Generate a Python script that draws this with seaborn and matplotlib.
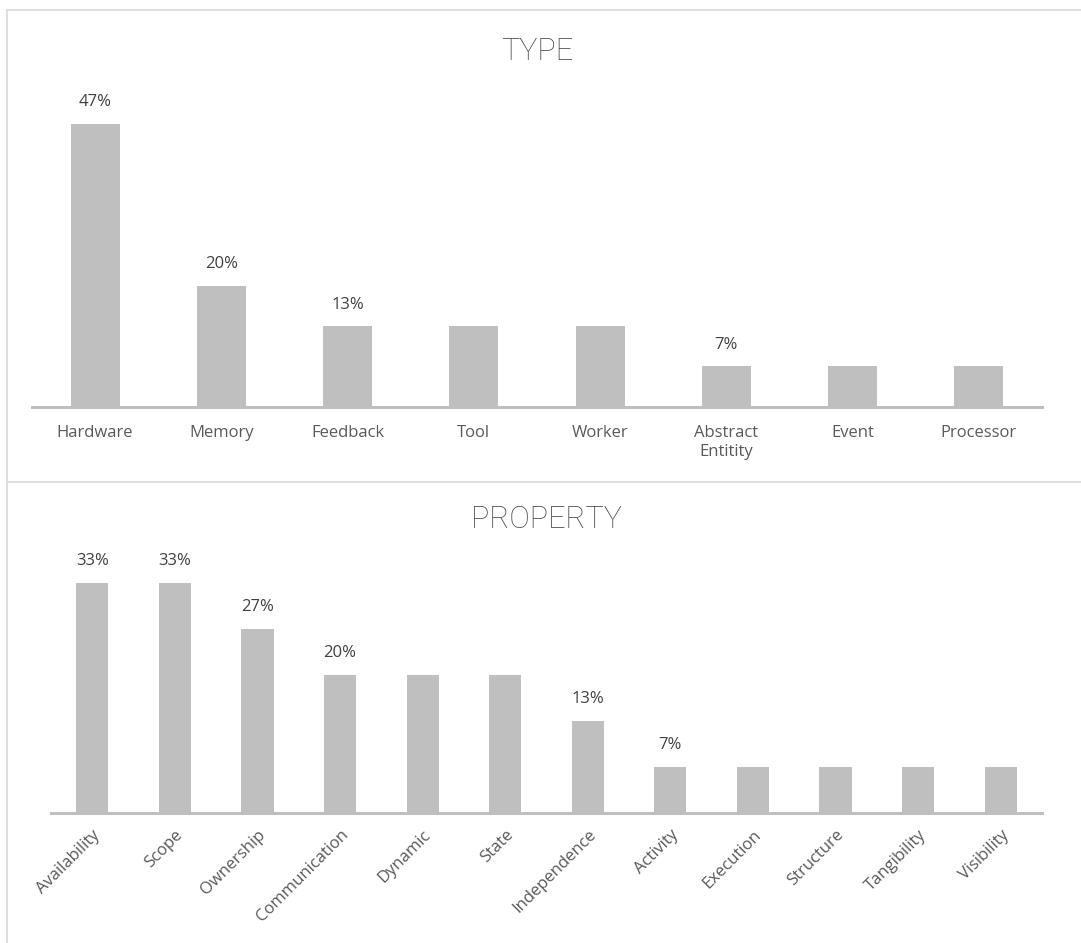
import matplotlib
matplotlib.use("Agg")
import matplotlib.pyplot as plt
import seaborn as sns
import pandas as pd
from matplotlib.lines import Line2D

type_cats = ["Hardware", "Memory", "Feedback", "Tool", "Worker", "Abstract\nEntitity", "Event", "Processor"]
type_vals = [46.7, 20.0, 13.3, 13.3, 13.3, 6.7, 6.7, 6.7]
type_labels = ["47%", "20%", "13%", "", "", "7%", "", ""]

prop_cats = ["Availability", "Scope", "Ownership", "Communication", "Dynamic", "State",
             "Independence", "Activity", "Execution", "Structure", "Tangibility", "Visibility"]
prop_vals = [33.3, 33.3, 26.7, 20.0, 20.0, 20.0, 13.3, 6.7, 6.7, 6.7, 6.7, 6.7]
prop_labels = ["33%", "33%", "27%", "20%", "", "", "13%", "7%", "", "", "", ""]

sns.set_theme(style="white")
plt.rcParams["font.family"] = ["Open Sans", "DejaVu Sans"]

W, H = 1081, 943
fig = plt.figure(figsize=(W / 100, H / 100), dpi=100)

BAR = "#BFBFBF"
TXT = "#595959"
LBL = "#404040"
TITLE_FONT = ["Roboto", "DejaVu Sans"]


def px(x0, y0, x1, y1):
    return [x0 / W, 1 - y1 / H, (x1 - x0) / W, (y1 - y0) / H]


def panel(rect, cats, vals, labels, ymax, title, title_y, rotate):
    ax = fig.add_axes(rect)
    df = pd.DataFrame({"cat": cats, "val": vals})
    sns.barplot(data=df, x="cat", y="val", color=BAR, width=0.39, ax=ax,
                saturation=1, edgecolor="none")
    ax.set_ylim(0, ymax)
    ax.set_xlim(-0.5, len(cats) - 0.5)
    ax.set_xlabel("")
    ax.set_ylabel("")
    ax.set_yticks([])
    for s in ["top", "right", "left"]:
        ax.spines[s].set_visible(False)
    ax.spines["bottom"].set_color(BAR)
    ax.spines["bottom"].set_linewidth(2.2)
    ax.patch.set_alpha(0)
    ax.bar_label(ax.containers[0], labels=labels, padding=10, fontsize=12, color=LBL)
    if rotate:
        ax.tick_params(axis="x", length=0, pad=10, labelsize=12, labelcolor=TXT)
        for t in ax.get_xticklabels():
            t.set_rotation(45)
            t.set_ha("right")
            t.set_rotation_mode("anchor")
    else:
        ax.tick_params(axis="x", length=0, pad=13, labelsize=12, labelcolor=TXT)
        for t in ax.get_xticklabels():
            t.set_ha("center")
            t.set_linespacing(1.25)
    fig.text(0.5 * (rect[0] * 2 + rect[2]), title_y, title, ha="center", va="center",
             fontsize=22, color="#4a4a4a", family=TITLE_FONT, fontweight="light")
    return ax


panel(px(32, 104, 1042, 407), type_cats, type_vals, type_labels, 50, "TYPE",
      1 - 51 / H, False)
panel(px(51, 537, 1042, 813), prop_cats, prop_vals, prop_labels, 40, "PROPERTY",
      1 - 519 / H, True)

border = "#D9D9D9"
fig.add_artist(Line2D([7 / W, 1], [1 - 10 / H, 1 - 10 / H], color=border, lw=1.2,
                      transform=fig.transFigure))
fig.add_artist(Line2D([7 / W, 1], [1 - 482 / H, 1 - 482 / H], color=border, lw=1.2,
                      transform=fig.transFigure))
fig.add_artist(Line2D([7 / W, 7 / W], [0, 1 - 10 / H], color=border, lw=1.2,
                      transform=fig.transFigure))

fig.savefig("out.png", dpi=100, facecolor="white")
